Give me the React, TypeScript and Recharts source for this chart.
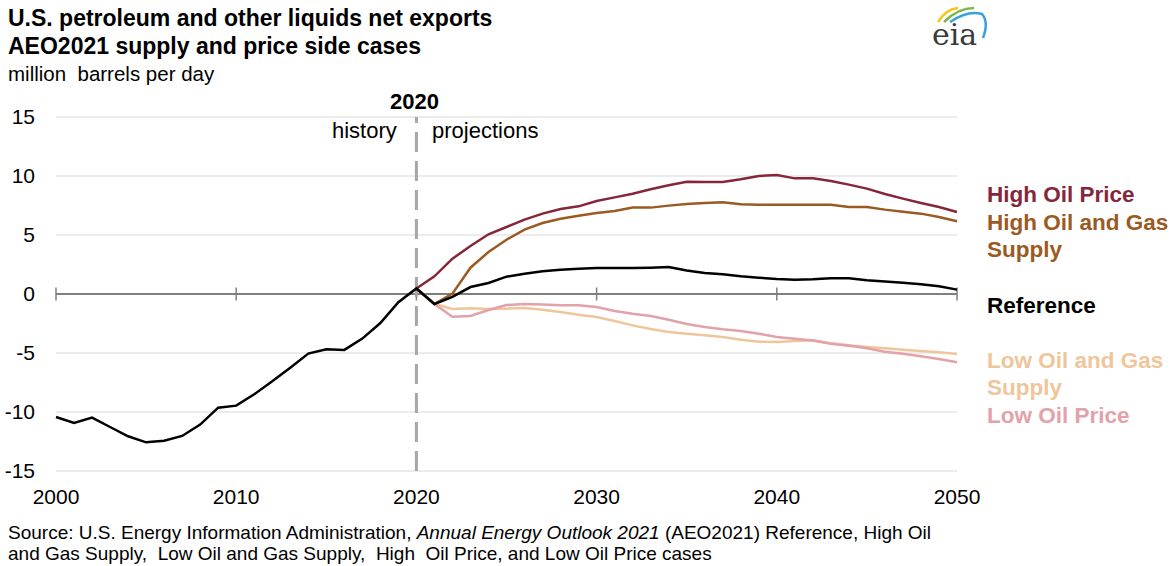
import {
  CartesianGrid,
  Line,
  LineChart,
  ReferenceLine,
  XAxis,
  YAxis,
} from "recharts";

const years = Array.from({ length: 51 }, (_, i) => 2000 + i);

// million barrels per day, 2000-2050
const reference = [
  -10.42, -10.93, -10.48, -11.27, -12.06, -12.57, -12.43, -12.03, -11.07, -9.63,
  -9.46, -8.5, -7.4, -6.24, -5.05, -4.69, -4.74, -3.78, -2.46, -0.7,
  0.47, -0.85, -0.25, 0.59, 0.93, 1.47, 1.72, 1.92, 2.06, 2.15,
  2.2, 2.2, 2.2, 2.23, 2.29, 2.0, 1.78, 1.67, 1.5, 1.38,
  1.27, 1.21, 1.24, 1.33, 1.33, 1.16, 1.05, 0.96, 0.82, 0.65, 0.37,
];

// side cases, 2020-2050
const highOilPrice = [
  0.47, 1.5, 2.99, 4.07, 5.06, 5.68, 6.3, 6.81, 7.2, 7.43, 7.88,
  8.19, 8.5, 8.87, 9.21, 9.52, 9.49, 9.49, 9.72, 10.0, 10.08,
  9.8, 9.8, 9.58, 9.27, 8.93, 8.47, 8.08, 7.71, 7.37, 6.95,
];
const highOilGasSupply = [
  0.47, -0.85, 0.03, 2.23, 3.56, 4.6, 5.45, 6.02, 6.38, 6.64, 6.86,
  7.03, 7.32, 7.32, 7.49, 7.63, 7.71, 7.77, 7.6, 7.57, 7.57,
  7.57, 7.57, 7.57, 7.37, 7.37, 7.15, 6.98, 6.81, 6.53, 6.16,
];
const lowOilGasSupply = [
  0.47, -0.85, -1.27, -1.21, -1.27, -1.24, -1.19, -1.33, -1.53, -1.75, -1.95,
  -2.29, -2.66, -2.97, -3.22, -3.36, -3.5, -3.64, -3.87, -4.04, -4.07,
  -3.98, -3.93, -4.18, -4.35, -4.49, -4.6, -4.72, -4.83, -4.94, -5.08,
];
const lowOilPrice = [
  0.47, -0.85, -1.92, -1.86, -1.36, -0.93, -0.85, -0.88, -0.96, -0.96, -1.1,
  -1.44, -1.67, -1.86, -2.18, -2.54, -2.8, -2.99, -3.14, -3.36, -3.64,
  -3.79, -3.95, -4.21, -4.38, -4.6, -4.89, -5.06, -5.28, -5.51, -5.79,
];

const xTicks = [2000, 2010, 2020, 2030, 2040, 2050];
const yTicks = [-15, -10, -5, 0, 5, 10, 15];

const C = {
  hop: "#84273a",
  hogs: "#9a5b22",
  ref: "#000000",
  logs: "#efc59c",
  lop: "#e3a1a9",
};

const FONT = '"Liberation Sans", Arial, sans-serif';

const data = years.map((year, i) => {
  const j = year - 2020;
  return {
    year,
    reference: reference[i],
    highOilPrice: j >= 0 ? highOilPrice[j] : null,
    highOilGasSupply: j >= 0 ? highOilGasSupply[j] : null,
    lowOilGasSupply: j >= 0 ? lowOilGasSupply[j] : null,
    lowOilPrice: j >= 0 ? lowOilPrice[j] : null,
  };
});

function Label({ top, color, children }: { top: number; color: string; children: React.ReactNode }) {
  return (
    <div
      style={{
        position: "absolute",
        left: 987,
        top,
        color,
        fontWeight: "bold",
        fontSize: 22.5,
        lineHeight: "27px",
        whiteSpace: "nowrap",
      }}
    >
      {children}
    </div>
  );
}

function EiaLogo() {
  return (
    <svg width={90} height={52} style={{ position: "absolute", left: 922, top: 0 }}>
      <path d="M 16 22 Q 24 9 36 8" stroke="#f5c518" strokeWidth={2.5} fill="none" />
      <path d="M 22 22 Q 36 8 52 8" stroke="#7ab648" strokeWidth={2.5} fill="none" />
      <path d="M 28 22 Q 46 10 60 14 Q 67 22 61 38" stroke="#3aa0dc" strokeWidth={2.5} fill="none" />
      <text x={10} y={45} fontFamily='"DejaVu Serif", "Liberation Serif", serif' fontSize={30} fill="#3a3a3a">
        eia
      </text>
    </svg>
  );
}

export default function App() {
  return (
    <div
      style={{
        position: "absolute",
        left: 0,
        top: 0,
        width: 1176,
        height: 566,
        background: "#fff",
        fontFamily: FONT,
        overflow: "hidden",
      }}
    >
      <div style={{ position: "absolute", left: 8, top: 4, fontWeight: "bold", fontSize: 23, lineHeight: "28px", color: "#000" }}>
        U.S. petroleum and other liquids net exports
        <br />
        AEO2021 supply and price side cases
      </div>
      <div style={{ position: "absolute", left: 8, top: 62, fontSize: 20.5, color: "#000" }}>
        million&nbsp; barrels per day
      </div>
      <EiaLogo />

      <LineChart
        width={1176}
        height={566}
        data={data}
        margin={{ top: 117, right: 219, bottom: 65, left: 0 }}
        style={{ position: "absolute", left: 0, top: 0 }}
      >
        <CartesianGrid vertical={false} stroke="#d9d9d9" strokeWidth={1} />
        <XAxis
          dataKey="year"
          type="number"
          domain={[2000, 2050]}
          ticks={xTicks}
          axisLine={false}
          tickLine={false}
          tickSize={0}
          tickMargin={18}
          height={30}
          tick={{ fill: "#000", fontSize: 21, fontFamily: FONT }}
        />
        <YAxis
          type="number"
          domain={[-15, 15]}
          ticks={yTicks}
          axisLine={false}
          tickLine={false}
          tickSize={0}
          tickMargin={21}
          width={56}
          tick={{ fill: "#000", fontSize: 21, fontFamily: FONT }}
        />
        <ReferenceLine y={0} stroke="#7f7f7f" strokeWidth={2} />
        {xTicks.map((t) => (
          <ReferenceLine
            key={t}
            segment={[
              { x: t, y: -0.55 },
              { x: t, y: 0.55 },
            ]}
            stroke="#7f7f7f"
            strokeWidth={1.5}
            ifOverflow="visible"
          />
        ))}
        <ReferenceLine
          x={2020}
          stroke="#a6a6a6"
          strokeWidth={3}
          strokeDasharray="20 9"
        />
        <Line dataKey="lowOilGasSupply" stroke={C.logs} strokeWidth={2.5} dot={false} isAnimationActive={false} />
        <Line dataKey="lowOilPrice" stroke={C.lop} strokeWidth={2.5} dot={false} isAnimationActive={false} />
        <Line dataKey="highOilGasSupply" stroke={C.hogs} strokeWidth={2.5} dot={false} isAnimationActive={false} />
        <Line dataKey="highOilPrice" stroke={C.hop} strokeWidth={2.5} dot={false} isAnimationActive={false} />
        <Line dataKey="reference" stroke={C.ref} strokeWidth={2.5} dot={false} isAnimationActive={false} />
      </LineChart>

      <div style={{ position: "absolute", left: 390, top: 89, fontWeight: "bold", fontSize: 22, color: "#000" }}>2020</div>
      <div style={{ position: "absolute", left: 332, top: 118, fontSize: 22, color: "#000" }}>history</div>
      <div style={{ position: "absolute", left: 432, top: 118, fontSize: 22, color: "#000" }}>projections</div>

      <Label top={181} color={C.hop}>High Oil Price</Label>
      <Label top={209} color={C.hogs}>
        High Oil and Gas
        <br />
        Supply
      </Label>
      <Label top={292} color={C.ref}>Reference</Label>
      <Label top={347} color={C.logs}>
        Low Oil and Gas
        <br />
        Supply
      </Label>
      <Label top={402} color={C.lop}>Low Oil Price</Label>

      <div style={{ position: "absolute", left: 8, top: 522, fontSize: 19, lineHeight: "21px", color: "#000", whiteSpace: "nowrap" }}>
        Source: U.S. Energy Information Administration, <i>Annual Energy Outlook 2021</i> (AEO2021) Reference, High Oil
        <br />
        and Gas Supply,&nbsp; Low Oil and Gas Supply,&nbsp; High&nbsp; Oil Price, and Low Oil Price cases
      </div>
    </div>
  );
}
